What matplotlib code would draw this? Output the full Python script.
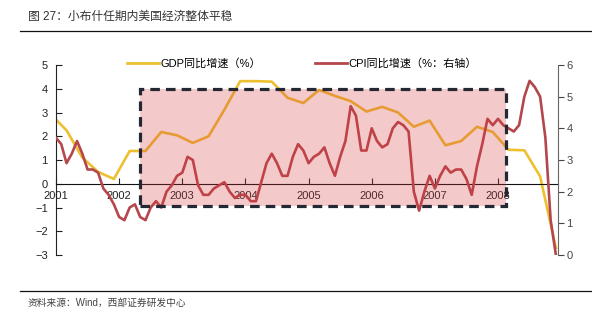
import numpy as np
import matplotlib.pyplot as plt
from matplotlib.patches import Rectangle
from matplotlib.lines import Line2D

plt.rcParams['font.family'] = ['Liberation Sans', 'Noto Sans CJK SC', 'DejaVu Sans']

# monthly CPI y/y (%), Jan 2001 - Dec 2008, right axis
cpi = [3.7, 3.5, 2.9, 3.2, 3.6, 3.2, 2.7, 2.7, 2.6, 2.1, 1.9, 1.6,
       1.2, 1.1, 1.5, 1.6, 1.2, 1.1, 1.5, 1.7, 1.5, 2.0, 2.2, 2.5,
       2.6, 3.1, 3.0, 2.2, 1.9, 1.9, 2.1, 2.2, 2.3, 2.0, 1.8, 1.9,
       1.9, 1.7, 1.7, 2.3, 2.9, 3.2, 2.9, 2.5, 2.5, 3.1, 3.5, 3.3,
       2.9, 3.1, 3.2, 3.4, 2.9, 2.5, 3.1, 3.6, 4.7, 4.4, 3.3, 3.3,
       4.0, 3.6, 3.4, 3.5, 4.0, 4.2, 4.1, 3.9, 2.0, 1.4, 2.0, 2.5,
       2.1, 2.5, 2.8, 2.6, 2.7, 2.7, 2.4, 1.9, 2.8, 3.5, 4.3, 4.1,
       4.3, 4.1, 4.0, 3.9, 4.1, 5.0, 5.5, 5.3, 5.0, 3.7, 1.1, 0.0]

# quarterly GDP y/y (%), left axis (first point = start of 2001, then quarter ends)
gdp = [2.70, 2.25, 1.10, 0.50, 0.20, 1.38, 1.38, 2.18, 2.04, 1.72, 2.00,
       3.12, 4.32, 4.32, 4.30, 3.62, 3.40, 3.95, 3.70, 3.48, 3.04, 3.24,
       3.00, 2.40, 2.66, 1.62, 1.80, 2.40, 2.18, 1.43, 1.41, 0.31, -2.70]

years = ['2001', '2002', '2003', '2004', '2005', '2006', '2007', '2008']

months = np.arange(len(cpi))
gdp_months = [0] + list(range(2, len(cpi), 3))
year_pos = np.arange(len(years)) * 12

c_gdp = '#EDC030'
c_cpi = '#B5474C'

fig = plt.figure(figsize=(5.92, 3.29), dpi=100)
ax = fig.add_axes([0.0946, 0.2249, 0.8480, 0.5775])
ax2 = ax.twinx()

ax.plot(gdp_months, gdp, color=c_gdp, lw=1.9, solid_joinstyle='round')
ax2.plot(months, cpi, color=c_cpi, lw=1.9, solid_joinstyle='round')

ax.set_xlim(0, 95.4)
ax.set_ylim(-3, 5)
ax2.set_ylim(0, 6)
ax.set_yticks(range(-3, 6))
ax2.set_yticks(range(0, 7))
ax.set_xticks(year_pos)
ax.set_xticklabels(years)

# shaded period box (overlay on top of both lines)
box_x0, box_x1, box_y0, box_y1 = 16, 85.6, -0.93, 4.0
shade = Rectangle((box_x0, box_y0), box_x1 - box_x0, box_y1 - box_y0,
                  transform=ax.transData, facecolor='#D8383C', alpha=0.27,
                  edgecolor='none', zorder=3)
ax2.add_patch(shade)
border = Rectangle((box_x0, box_y0), box_x1 - box_x0, box_y1 - box_y0,
                   transform=ax.transData, fill=False, edgecolor='#232833',
                   lw=2.3, linestyle=(0, (3.0, 1.9)), zorder=4)
ax2.add_patch(border)

ax.spines['top'].set_visible(False)
ax2.spines['top'].set_visible(False)
ax2.spines['left'].set_visible(False)
ax2.spines['bottom'].set_visible(False)
ax.spines['right'].set_visible(False)
ax.spines['bottom'].set_position(('data', 0))
ax.spines['left'].set_color('#222222')
ax.spines['bottom'].set_color('#111111')
ax2.spines['right'].set_color('#666666')

ax.tick_params(axis='y', direction='in', length=4, labelsize=8, colors='#222222', pad=6)
ax.tick_params(axis='x', direction='in', length=4, labelsize=8, colors='#222222', pad=5)
ax2.tick_params(axis='y', direction='out', length=4, labelsize=8, colors='#444444', pad=2)

handles = [Line2D([], [], color=c_gdp, lw=2), Line2D([], [], color=c_cpi, lw=2)]
fig.legend(handles, ['GDP同比增速（%）', 'CPI同比增速（%：右轴）'],
           loc='center', bbox_to_anchor=(0.51, 0.808), ncol=2, frameon=False,
           fontsize=8, handlelength=2.9, handletextpad=0.15, columnspacing=4.8)

fig.text(0.047, 0.948, '图 27：小布什任期内美国经济整体平稳', fontsize=8.5,
         color='#333333', va='center', ha='left')
fig.add_artist(Line2D([0.034, 1.0], [0.907, 0.907], color='#111111', lw=0.9))
fig.add_artist(Line2D([0.034, 1.0], [0.116, 0.116], color='#111111', lw=0.9))
fig.text(0.046, 0.079, '资料来源：Wind，西部证券研发中心', fontsize=7,
         color='#444444', va='center', ha='left')

fig.savefig('out.png', dpi=100)
